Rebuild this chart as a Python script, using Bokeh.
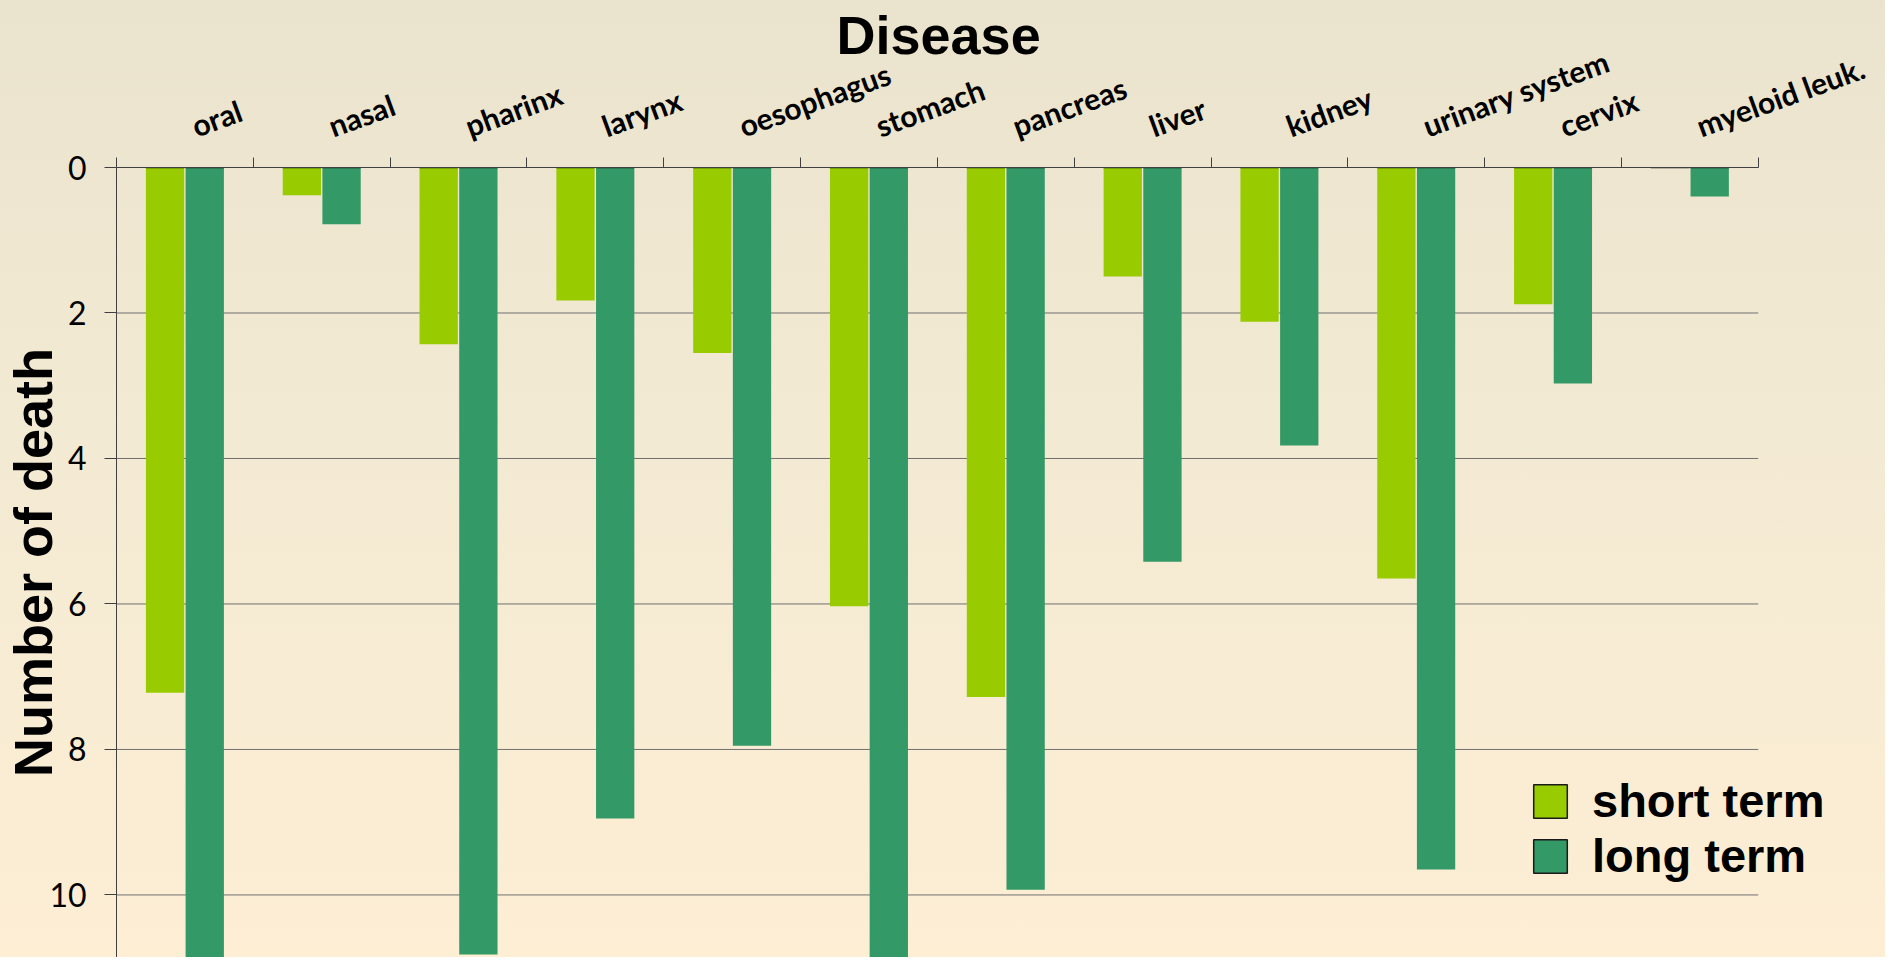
import math
from bokeh.plotting import figure
from bokeh.models import Range1d, FixedTicker, Legend, LegendItem
from bokeh.embed import file_html
from bokeh.resources import INLINE

# ---- data ----
categories = ["oral", "nasal", "pharinx", "larynx", "oesophagus", "stomach",
              "pancreas", "liver", "kidney", "urinary system", "cervix", "myeloid leuk."]
short_term = [7.22, 0.38, 2.43, 1.83, 2.55, 6.03, 7.28, 1.50, 2.12, 5.65, 1.88, 0.0]
long_term = [11.5, 0.78, 10.82, 8.95, 7.95, 10.88, 9.93, 5.42, 3.82, 9.65, 2.97, 0.40]
series_names = ["short term", "long term"]
y_ticks = [0, 2, 4, 6, 8, 10]
colors = ["#99CC00", "#339966"]

n = len(categories)
centers = [i + 0.5 for i in range(n)]
bounds = list(range(n + 1))
label_shift = 0.056  # category labels start slightly right of the category centre

# frame spans to the right page edge so the legend is not clipped;
# the axis and grid stop at the last category boundary
p = figure(width=1885, height=957,
           x_range=Range1d(0, 12.93), y_range=Range1d(10.86, 0),
           x_axis_location="above",
           output_backend="svg", toolbar_location=None,
           min_border_left=107, min_border_right=0,
           min_border_top=167, min_border_bottom=0)
p.extra_y_ranges = {"hidden": Range1d(-100, -99)}
p.background_fill_alpha = 0
p.border_fill_alpha = 0
p.outline_line_color = None
p.styles = {"background": "linear-gradient(180deg, #EAE3CD 0%, #F3EAD3 45%, #FDEED4 100%)"}

# title "Disease" above the category labels
p.title.text = "Disease"
p.title.align = "left"
p.title.offset = 720
p.title.standoff = -84
p.title.text_font = "Liberation Sans"
p.title.text_font_style = "bold"
p.title.text_font_size = "54px"
p.title.text_color = "black"

# horizontal grid lines (drawn under the bars)
p.segment(x0=0, x1=n, y0=y_ticks[1:], y1=y_ticks[1:], line_color="#707070", line_width=1)

bw = 0.28
off = 0.145
p.vbar(x=[c - off for c in centers], top=short_term, bottom=0, width=bw,
       fill_color=colors[0], line_color=None)
p.vbar(x=[c + off for c in centers], top=long_term, bottom=0, width=bw,
       fill_color=colors[1], line_color=None)

# legend swatches (outlined boxes), drawn off-screen on a hidden range
leg_r = []
for c, vals, sgn in zip(colors, [short_term, long_term], [-1, 1]):
    leg_r.append(p.vbar(x=[cc + sgn * off for cc in centers], top=vals, bottom=0, width=bw,
                        fill_color=c, line_color="#1a1a1a", line_width=1.5,
                        y_range_name="hidden"))

# x axis (top)
label_pos = [c + label_shift for c in centers]
xa = p.xaxis[0]
xa.bounds = (0, n)
xa.ticker = FixedTicker(ticks=label_pos, minor_ticks=bounds)
xa.major_label_overrides = {float(c): name for c, name in zip(label_pos, categories)}
xa.major_label_orientation = math.radians(20)
xa.major_tick_line_color = None
xa.major_tick_out = 0
xa.major_tick_in = 0
xa.minor_tick_out = 10
xa.minor_tick_in = 0
xa.minor_tick_line_color = "#404040"
xa.axis_line_color = "#404040"
xa.major_label_text_font = "Lato"
xa.major_label_text_font_style = "bold"
xa.major_label_text_font_size = "30px"
xa.major_label_text_color = "black"
xa.major_label_standoff = 31

# y axis
ya = p.yaxis[0]
ya.ticker = FixedTicker(ticks=y_ticks)
ya.major_tick_out = 12
ya.major_tick_in = 0
ya.minor_tick_line_color = None
ya.major_tick_line_color = "#404040"
ya.axis_line_color = "#404040"
ya.major_label_text_font = "Lato"
ya.major_label_text_font_size = "32px"
ya.major_label_text_color = "black"
ya.major_label_standoff = 18
ya.axis_label = "Number of death"
ya.axis_label_text_font = "Liberation Sans"
ya.axis_label_text_font_style = "bold"
ya.axis_label_text_font_size = "54px"
ya.axis_label_text_color = "black"
ya.axis_label_standoff = -17

p.xgrid.visible = False
p.ygrid.visible = False

legend = Legend(items=[LegendItem(label=s, renderers=[r]) for s, r in zip(series_names, leg_r)],
                location=(1413, 74), glyph_width=42, glyph_height=42,
                label_text_font="Liberation Sans", label_text_font_style="bold",
                label_text_font_size="47px", label_text_color="black",
                label_standoff=21, spacing=-4,
                padding=0, margin=0, background_fill_alpha=0, border_line_color=None)
p.add_layout(legend)

open("out.html", "w").write(file_html(p, INLINE))
